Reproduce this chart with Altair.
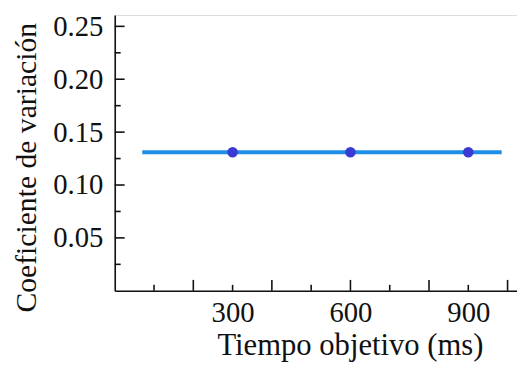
import altair as alt
import pandas as pd

# data
point_x = [300, 600, 900]
point_y = [0.131, 0.131, 0.131]
line_x = [70, 985]
line_y = [0.131, 0.131]
x_labels = [300, 600, 900]
x_major = [200, 400, 600, 800, 1000]
x_minor = [100, 300, 500, 700, 900]
y_major = [0.05, 0.10, 0.15, 0.20, 0.25]
y_minor = [0.025, 0.075, 0.125, 0.175, 0.225]

FONT = "Liberation Serif"
X_DOM = [0, 1024]
Y_DOM = [0, 0.2607]

xs = alt.Scale(domain=X_DOM, nice=False, zero=False)
ys = alt.Scale(domain=Y_DOM, nice=False, zero=False)

pts = pd.DataFrame({"x": point_x, "y": point_y})
ln = pd.DataFrame({"x": line_x, "y": line_y})
yM = pd.DataFrame({"v": y_major})
ym = pd.DataFrame({"v": y_minor})
xM = pd.DataFrame({"v": x_major})
xm = pd.DataFrame({"v": x_minor})

base_axes = alt.Chart(pts).mark_point(opacity=0).encode(
    x=alt.X("x:Q", scale=xs,
            axis=alt.Axis(values=x_labels, format="d", grid=False, ticks=False,
                          domainColor="#111111", domainWidth=1.6,
                          labelFont=FONT, labelFontSize=29, labelColor="#111111",
                          labelPadding=8, labelFlush=False,
                          title="Tiempo objetivo (ms)", titleFont=FONT,
                          titleFontSize=31, titleFontWeight="normal",
                          titleColor="#111111", titleX=238, titleY=64,
                          titleAlign="center", titleBaseline="alphabetic")),
    y=alt.Y("y:Q", scale=ys,
            axis=alt.Axis(values=y_major, format=".2f", grid=False, ticks=False,
                          domainColor="#111111", domainWidth=1.6,
                          labelFont=FONT, labelFontSize=29, labelColor="#111111",
                          labelPadding=12, labelFlush=False,
                          title="Coeficiente de variación", titleFont=FONT,
                          titleFontSize=30, titleFontWeight="normal",
                          titleColor="#111111", titleAngle=270, titleX=-80,
                          titleY=154, titleAlign="center",
                          titleBaseline="alphabetic")),
)

ytick_major = alt.Chart(yM).mark_rule(color="#111111", strokeWidth=1.6).encode(
    y=alt.Y("v:Q", scale=ys), x=alt.value(0), x2=alt.value(10))
ytick_minor = alt.Chart(ym).mark_rule(color="#111111", strokeWidth=1.6).encode(
    y=alt.Y("v:Q", scale=ys), x=alt.value(0), x2=alt.value(6))
xtick_major = alt.Chart(xM).mark_rule(color="#111111", strokeWidth=1.6).encode(
    x=alt.X("v:Q", scale=xs), y=alt.value(279), y2=alt.value(268))
xtick_minor = alt.Chart(xm).mark_rule(color="#111111", strokeWidth=1.6).encode(
    x=alt.X("v:Q", scale=xs), y=alt.value(279), y2=alt.value(273))

line = alt.Chart(ln).mark_line(color="#1e8fe6", strokeWidth=4).encode(
    x=alt.X("x:Q", scale=xs), y=alt.Y("y:Q", scale=ys))
dots = alt.Chart(pts).mark_circle(color="#3a3bd2", size=115, opacity=1).encode(
    x=alt.X("x:Q", scale=xs), y=alt.Y("y:Q", scale=ys))

chart = alt.layer(base_axes, ytick_major, ytick_minor, xtick_major, xtick_minor,
                  line, dots).properties(
    width=407, height=279,
    autosize=alt.AutoSizeParams(type="none"),
    padding={"left": 108, "top": 5, "right": 0, "bottom": 75},
).configure_view(stroke=None).configure(background="white")

chart.save("out.html", embed_options={"renderer": "svg", "actions": False})
